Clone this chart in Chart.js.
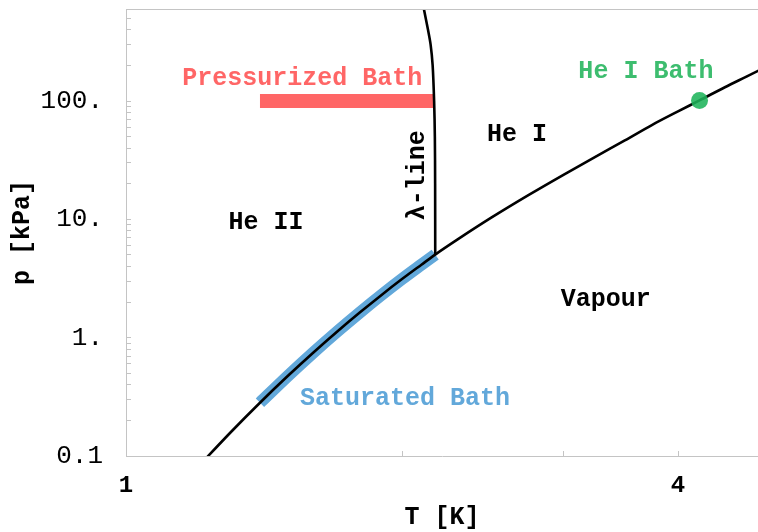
<!DOCTYPE html>
<html><head><meta charset="utf-8">
<script src="https://cdn.jsdelivr.net/npm/chart.js@4.4.1/dist/chart.umd.min.js"></script>
<style>html,body{margin:0;padding:0;background:#fff;}canvas{display:block;}</style>
</head><body>
<canvas id="c" width="758" height="532"></canvas>
<script>
// Saturated vapour pressure curve of He-4: T [K], p [kPa]
const satT = [1.20, 1.30, 1.40, 1.50, 1.60, 1.70, 1.80, 1.90, 2.00, 2.10, 2.174, 2.30, 2.50, 2.75, 3.00, 3.25, 3.50, 3.75, 4.00, 4.222, 4.50, 4.75, 5.00];
const satP = [0.0819, 0.158, 0.282, 0.4715, 0.7465, 1.128, 1.638, 2.299, 3.130, 4.141, 5.04, 6.77, 10.28, 16.1, 23.8, 33.8, 46.5, 63.0, 81.8, 101.325, 130.9, 161, 196];
// Lambda line
const lambdaT = [2.113, 2.135, 2.149, 2.160, 2.168, 2.172, 2.1735, 2.174];
const lambdaP = [600, 400, 300, 200, 100, 50, 20, 5.04];
// Saturated bath segment
const satBathT = [1.40, 1.50, 1.60, 1.70, 1.80, 1.90, 2.00, 2.10, 2.174];
const satBathP = [0.282, 0.4715, 0.7465, 1.128, 1.638, 2.299, 3.130, 4.141, 5.04];
// Pressurized bath segment
const pressBathT = [1.40, 2.168];
const pressBathP = [100, 100];
// He I bath point
const heIBathT = [4.222];
const heIBathP = [101.325];
// Ticks
const xTickValues = [1, 2, 3, 4];
const xTickLabels = ["1", "", "", "4"];
const yTickValues = [0.1,0.2,0.3,0.4,0.5,0.6,0.7,0.8,0.9,1,2,3,4,5,6,7,8,9,10,20,30,40,50,60,70,80,90,100,200,300,400,500,600];
const yLabelValues = [0.1, 1, 10, 100];
const yLabelTexts = ["0.1", "1.", "10.", "100."];
// Region labels
const labelTexts = ["Pressurized Bath", "He I Bath", "He I", "He II", "Vapour", "Saturated Bath", "λ-line"];
const labelT = [1.557, 3.69, 2.669, 1.421, 3.337, 2.015, 2.082];
const labelP = [156, 176, 52.0, 9.43, 2.10, 0.304, 23.6];

const pts = (xs, ys) => xs.map((v, i) => ({x: v, y: ys[i]}));
const FONT = '"Liberation Mono", "DejaVu Sans Mono", monospace';

const labelStyles = [
  {color: '#ff6666'}, {color: '#3dbd6f'}, {color: '#000'}, {color: '#000'},
  {color: '#000'}, {color: '#62a8da'}, {color: '#000', rotate: -Math.PI / 2}
];

const textPlugin = {
  id: 'texts',
  afterDatasetsDraw(chart) {
    const {ctx, scales: {x, y}, chartArea} = chart;
    ctx.save();
    ctx.strokeStyle = '#c4c4c4';
    ctx.lineWidth = 1;
    ctx.beginPath();
    ctx.moveTo(chartArea.left, chartArea.top + 0.5);
    ctx.lineTo(chartArea.right, chartArea.top + 0.5);
    ctx.stroke();
    labelTexts.forEach((t, i) => {
      const st = labelStyles[i];
      ctx.save();
      ctx.translate(x.getPixelForValue(labelT[i]), y.getPixelForValue(labelP[i]));
      if (st.rotate) ctx.rotate(st.rotate);
      ctx.font = 'bold 25px ' + FONT;
      ctx.fillStyle = st.color;
      ctx.textAlign = 'center';
      ctx.textBaseline = 'middle';
      ctx.fillText(t, 0, 0);
      ctx.restore();
    });
    ctx.restore();
  }
};

new Chart(document.getElementById('c'), {
  type: 'line',
  data: {
    datasets: [
      {data: pts(satBathT, satBathP), borderColor: '#62a8da', borderWidth: 12, borderCapStyle: 'butt', pointRadius: 0, tension: 0.3, order: 3},
      {data: pts(pressBathT, pressBathP), borderColor: '#ff6666', borderWidth: 14, borderCapStyle: 'butt', pointRadius: 0, order: 3},
      {data: pts(satT, satP), borderColor: '#000', borderWidth: 2.6, pointRadius: 0, cubicInterpolationMode: 'monotone', order: 1},
      {data: pts(lambdaT, lambdaP), borderColor: '#000', borderWidth: 2.6, pointRadius: 0, tension: 0.3, order: 1},
      {data: pts(heIBathT, heIBathP), showLine: false, pointRadius: 8.5, pointBackgroundColor: 'rgba(30,180,90,0.88)', pointBorderWidth: 0, order: 0}
    ]
  },
  options: {
    responsive: false,
    animation: false,
    devicePixelRatio: 1,
    layout: {autoPadding: false, padding: {top: 9, right: 0, bottom: 0, left: 0}},
    plugins: {legend: {display: false}, tooltip: {enabled: false}},
    scales: {
      x: {
        type: 'logarithmic', min: 1, max: 4.89,
        afterBuildTicks: s => { s.ticks = xTickValues.map(v => ({value: v})); },
        afterFit: s => { s.height = 76; s.paddingLeft = 0; s.paddingRight = 0; },
        ticks: {
          autoSkip: false, maxRotation: 0, padding: 21, color: '#000',
          font: {family: FONT, size: 24, weight: 'bold'},
          callback: v => xTickLabels[xTickValues.indexOf(v)] ?? ''
        },
        grid: {drawOnChartArea: false, drawTicks: true, tickLength: -5, tickColor: '#c4c4c4'},
        border: {display: true, color: '#c4c4c4'},
        title: {display: true, text: 'T [K]', color: '#000', font: {family: FONT, size: 25, weight: 'bold'}, padding: {top: 0, bottom: -1}}
      },
      y: {
        type: 'logarithmic', min: 0.1, max: 600,
        afterBuildTicks: s => { s.ticks = yTickValues.map(v => ({value: v})); },
        afterFit: s => { s.width = 126; s.paddingTop = 0; s.paddingBottom = 0; },
        ticks: {
          autoSkip: false, padding: 28, color: '#000',
          font: {family: FONT, size: 26},
          callback: v => {
            const i = yLabelValues.findIndex(d => Math.abs(d - v) < 1e-9 * Math.max(1, d));
            return i >= 0 ? yLabelTexts[i] : '';
          }
        },
        grid: {drawOnChartArea: false, drawTicks: true, tickLength: -5, tickColor: '#c4c4c4'},
        border: {display: true, color: '#c4c4c4'},
        title: {display: true, text: 'p [kPa]', color: '#000', font: {family: FONT, size: 25, weight: 'bold'}, padding: {top: 8, bottom: 0}}
      }
    }
  },
  plugins: [textPlugin]
});
</script>
</body></html>
